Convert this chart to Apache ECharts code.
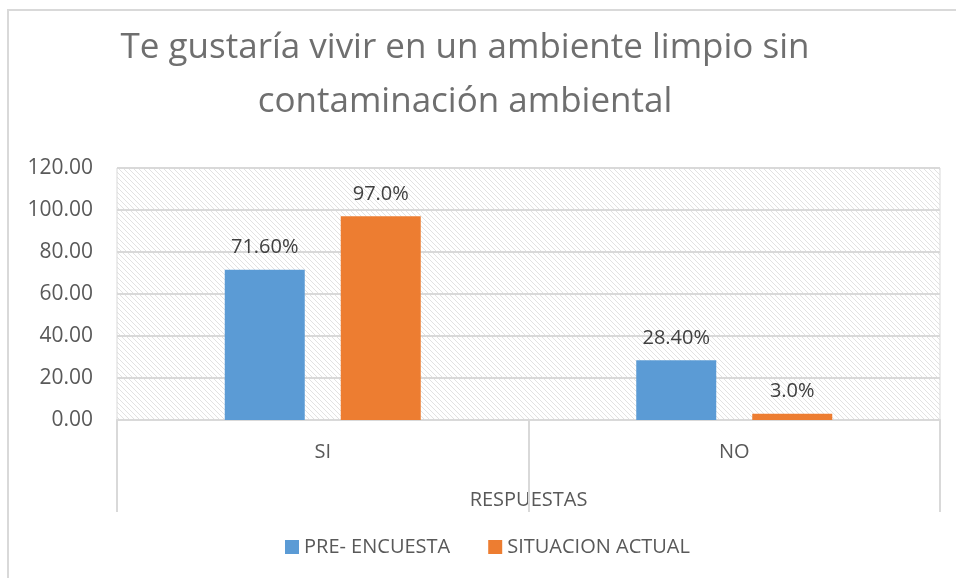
<!DOCTYPE html>
<html>
<head>
<meta charset="utf-8">
<script src="https://cdn.jsdelivr.net/npm/echarts@6/dist/echarts.min.js"></script>
<style>
  html, body { margin: 0; padding: 0; background: #fff; }
  #chart { width: 956px; height: 578px; }
</style>
</head>
<body>
<div id="chart"></div>
<script>
var categories = ['SI', 'NO'];
var preEncuesta = [71.6, 28.4];
var situacionActual = [97.0, 3.0];
var yTicks = { min: 0, max: 120, interval: 20 };

// diagonal hatch for the plot background
function hatch() {
    var c = document.createElement('canvas');
    c.width = 5; c.height = 5;
    var ctx = c.getContext('2d');
    ctx.strokeStyle = '#e2e2e2';
    ctx.lineWidth = 1;
    ctx.beginPath();
    ctx.moveTo(0, 0); ctx.lineTo(5, 5);
    ctx.moveTo(-2.5, 2.5); ctx.lineTo(2.5, 7.5);
    ctx.moveTo(2.5, -2.5); ctx.lineTo(7.5, 2.5);
    ctx.stroke();
    return c;
}

var font = 'Open Sans';
var myChart = echarts.init(document.getElementById('chart'));
myChart.setOption({
    animation: false,
    title: {
        text: 'Te gustaría vivir en un ambiente limpio sin\ncontaminación ambiental',
        left: 460,
        textAlign: 'center',
        top: 16,
        textStyle: {
            fontFamily: font,
            fontWeight: 'normal',
            fontSize: 35,
            color: '#6f6f6f',
            lineHeight: 54
        }
    },
    graphic: [{
        type: 'rect',
        shape: { x: 8, y: 10, width: 1000, height: 600 },
        style: { fill: null, stroke: '#d9d9d9', lineWidth: 2 },
        silent: true,
        z: -1
    }],
    legend: {
        bottom: 16,
        left: 280,
        itemWidth: 14,
        itemHeight: 14,
        itemGap: 38,
        icon: 'rect',
        textStyle: { fontFamily: font, fontSize: 20, color: '#595959' },
        data: ['PRE- ENCUESTA', 'SITUACION ACTUAL']
    },
    grid: {
        left: 117,
        right: 16,
        top: 168,
        bottom: 158,
        show: true,
        borderColor: '#d9d9d9',
        borderWidth: 1,
        backgroundColor: { image: hatch(), repeat: 'repeat' }
    },
    xAxis: {
        type: 'category',
        data: categories,
        name: 'RESPUESTAS',
        nameLocation: 'middle',
        nameGap: 70,
        nameTextStyle: { fontFamily: font, fontSize: 20, color: '#595959' },
        axisLine: { lineStyle: { color: '#d9d9d9', width: 2 } },
        axisTick: { show: true, length: 92, lineStyle: { color: '#d9d9d9', width: 2 } },
        axisLabel: { fontFamily: font, fontSize: 20, color: '#595959', margin: 22 }
    },
    yAxis: {
        type: 'value',
        min: yTicks.min,
        max: yTicks.max,
        interval: yTicks.interval,
        axisLine: { show: false },
        axisTick: { show: false },
        splitLine: { lineStyle: { color: '#d9d9d9', width: 2 } },
        axisLabel: {
            fontFamily: font,
            fontSize: 21,
            color: '#595959',
            margin: 24,
            formatter: function (v) { return v.toFixed(2); }
        }
    },
    series: [
        {
            name: 'PRE- ENCUESTA',
            type: 'bar',
            data: preEncuesta,
            barWidth: 80,
            barGap: '45%',
            itemStyle: { color: '#5b9bd5' },
            label: {
                show: true,
                position: 'top',
                distance: 12,
                fontFamily: font,
                fontSize: 20,
                color: '#404040',
                formatter: function (p) { return p.value.toFixed(2) + '%'; }
            }
        },
        {
            name: 'SITUACION ACTUAL',
            type: 'bar',
            data: situacionActual,
            barWidth: 80,
            itemStyle: { color: '#ed7d31' },
            label: {
                show: true,
                position: 'top',
                distance: 12,
                fontFamily: font,
                fontSize: 20,
                color: '#404040',
                formatter: function (p) { return p.value.toFixed(1) + '%'; }
            }
        }
    ]
});
</script>
</body>
</html>
